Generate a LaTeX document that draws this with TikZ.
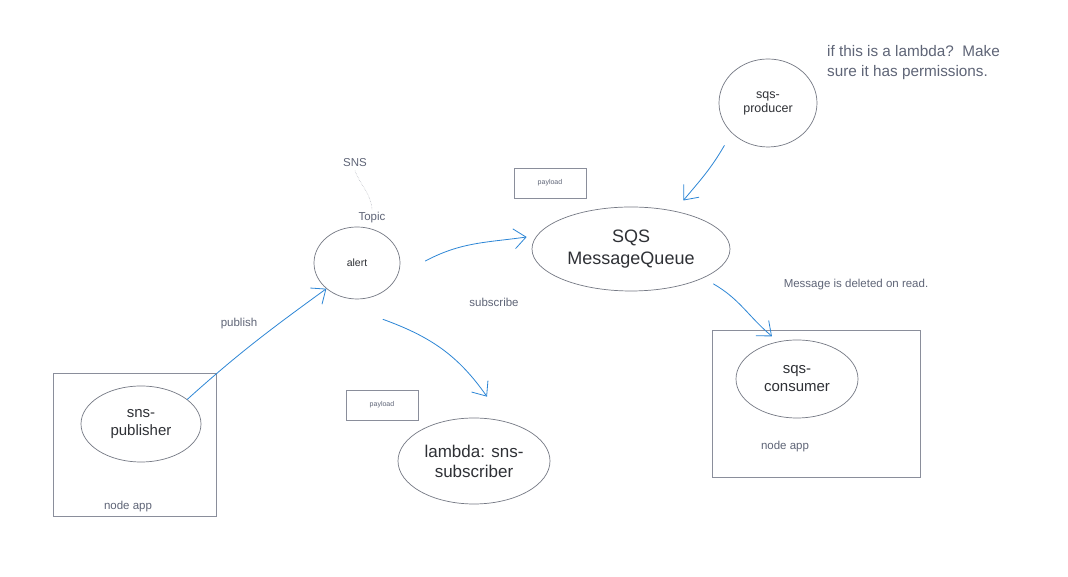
\documentclass[tikz,border=0pt]{standalone}
\usepackage{fontspec}
\setmainfont{Liberation Sans}
\usepackage{tikz}
\usetikzlibrary{arrows.meta}
\usetikzlibrary{shapes.geometric}
\usepackage{color}
\definecolor{tinta}{HTML}{2D86D6}
\definecolor{borde}{HTML}{8A8E9B}
\definecolor{letra}{HTML}{5F6577}
\definecolor{oscuro}{HTML}{2F3136}

\begin{document}
\begin{tikzpicture}[x=1pt,y=1pt,
  app/.style={draw=borde, line width=0.9pt, inner sep=0pt},
  burbuja/.style={ellipse, draw=borde!85!black, line width=0.7pt, text=oscuro,
    align=center, inner sep=0pt},
  etiqueta/.style={text=letra, font=\fontsize{11.5}{14}\selectfont},
  carga/.style={draw=borde, line width=0.8pt, minimum width=72pt, minimum height=30pt,
    text=letra, font=\fontsize{7}{8}\selectfont},
  flecha/.style={draw=tinta, line width=0.8pt, line cap=round,
    -{Straight Barb[length=12pt,width=20pt]}}]
  \useasboundingbox[fill=white] (0,0) rectangle (1068,577);

  % Cajas de las apps
  \node[app, minimum width=163pt, minimum height=143pt] (pubapp) at (134.5,132.5) {};
  \node[app, minimum width=208pt, minimum height=147pt] (consapp) at (816,173.5) {};
  \node[etiqueta] (pubtxt) at (128,70) {node app};
  \node[etiqueta] (constxt) at (785,130) {node app};

  % Nodos
  \node[burbuja, minimum width=120pt, minimum height=76pt,
    font=\fontsize{15}{18}\selectfont] (pub) at (141,153) {sns-\\publisher};
  \node[burbuja, minimum width=86pt, minimum height=72pt,
    font=\fontsize{10.5}{13}\selectfont] (alert) at (357,314) {alert};
  \node[burbuja, minimum width=198pt, minimum height=84pt,
    font=\fontsize{18}{22}\selectfont] (sqs) at (631,328) {SQS\\MessageQueue};
  \node[burbuja, minimum width=98pt, minimum height=88pt,
    font=\fontsize{12.5}{14}\selectfont] (prod) at (768,474) {sqs-\\producer};
  \node[burbuja, minimum width=122pt, minimum height=78pt,
    font=\fontsize{15}{18}\selectfont] (cons) at (797,198) {sqs-\\consumer};
  \node[burbuja, minimum width=152pt, minimum height=86pt,
    font=\fontsize{17}{20}\selectfont] (lambda) at (474,116) {lambda: sns-\\subscriber};

  % Cargas
  \node[carga] (carga1) at (550,394) {payload};
  \node[carga] (carga2) at (382,172) {payload};

  % Etiquetas
  \node[etiqueta] (sns) at (355,414) {SNS};
  \node[etiqueta] (topic) at (372,359) {Topic};
  \node[etiqueta] (publish) at (239,253) {publish};
  \node[etiqueta] (subscribe) at (494,275) {subscribe};
  \node[etiqueta] (borrado) at (856,292) {Message is deleted on read.};
  \node[text=letra, anchor=north west, align=left, inner sep=0pt,
    font=\fontsize{15.3}{20}\selectfont] (nota) at (827,532)
    {if this is a lambda?\ \ Make\\sure it has permissions.};

  \draw[borde!70, densely dotted, line width=0.5pt] (sns.south) to[out=-70,in=95] (topic.north);

  % Flechas
  \draw[flecha] (pub.28) to[out=42,in=216] (alert.220);
  \draw[flecha] ([xshift=25pt,yshift=2pt]alert.east) to[out=28,in=188]
    ([xshift=-5pt,yshift=12pt]sqs.west);
  \draw[flecha] ([xshift=-10pt,yshift=-10pt]prod.224) to[out=240,in=50]
    ([xshift=11pt,yshift=10pt]sqs.43);
  \draw[flecha] ([xshift=26pt,yshift=-20pt]alert.south) to[out=-20,in=125]
    ([xshift=13pt,yshift=21pt]lambda.north);
  \draw[flecha] ([xshift=12pt,yshift=-5pt]sqs.-23) to[out=-30,in=140]
    ([xshift=-3pt,yshift=6pt]cons.121);
\end{tikzpicture}
\end{document}
